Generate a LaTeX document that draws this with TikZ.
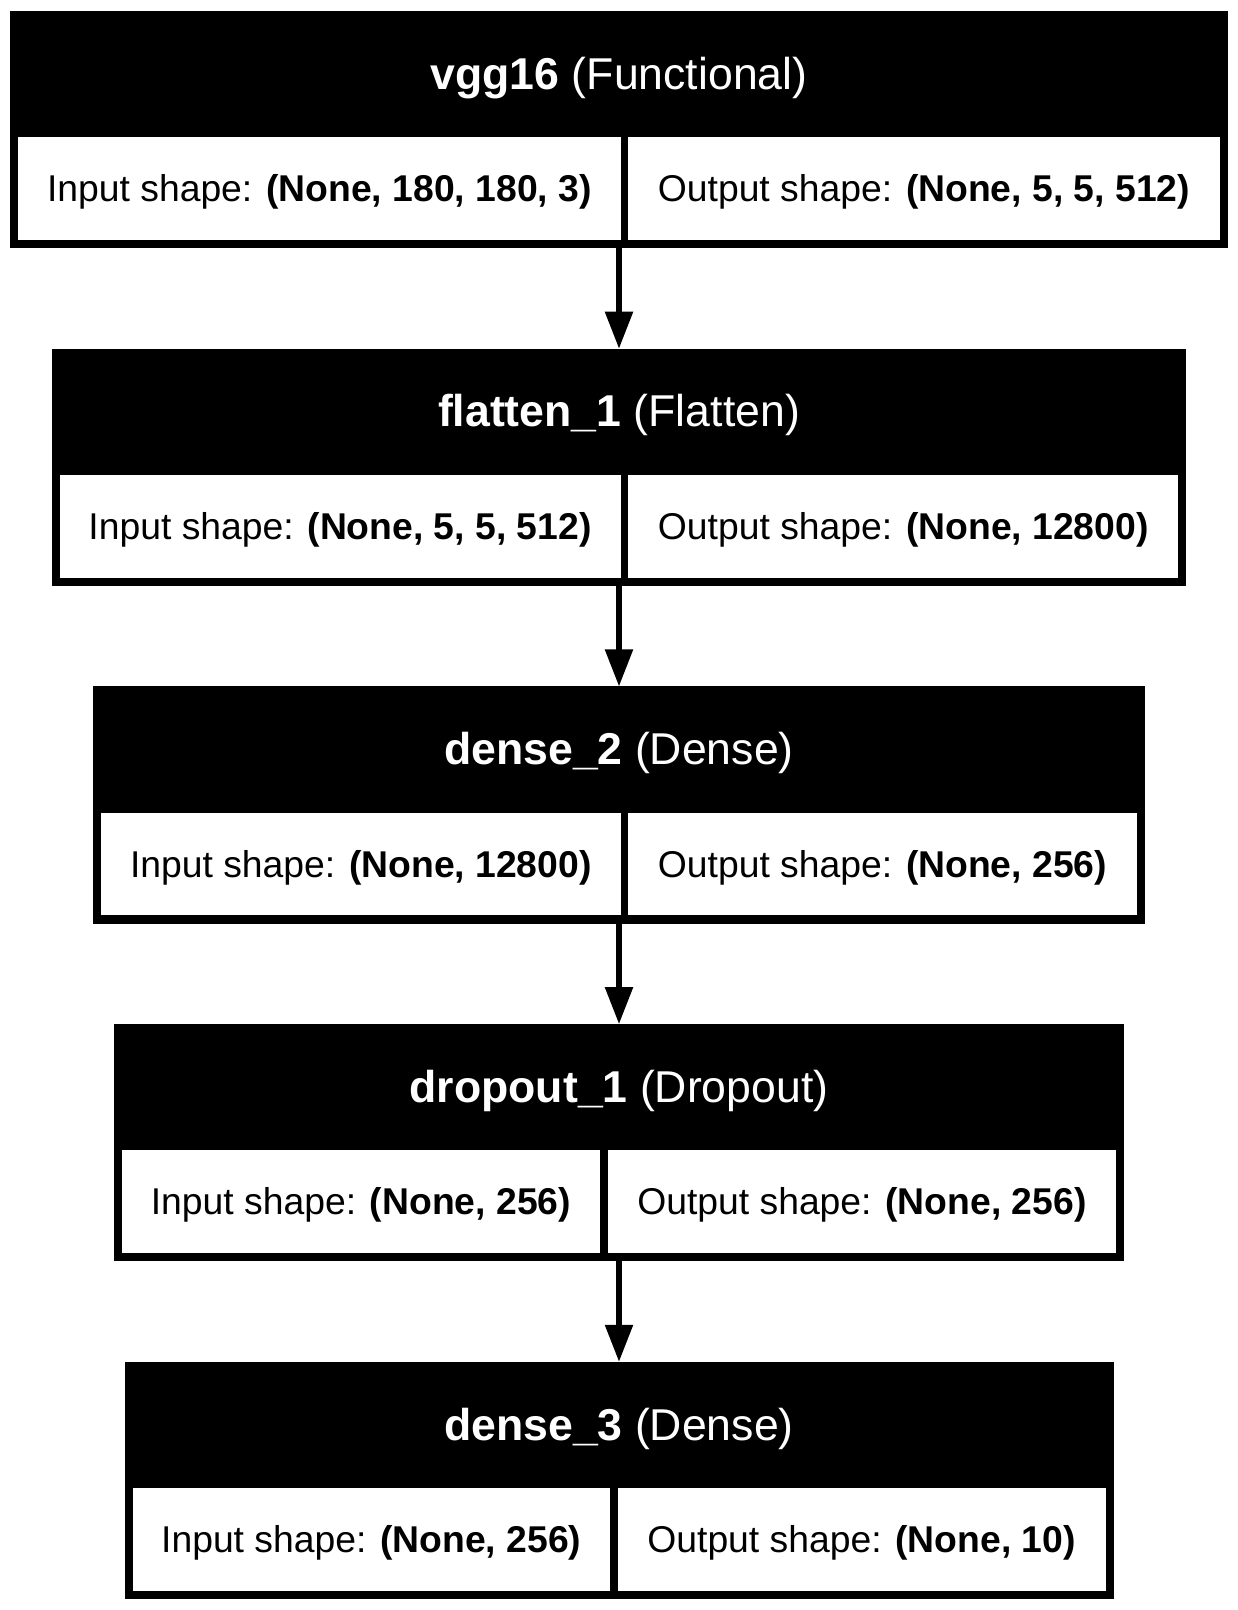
\documentclass[tikz,border=0pt]{standalone}
\usepackage{fontspec}
\setmainfont{Liberation Sans}
\usetikzlibrary{arrows.meta}
\tikzset{
  layerbox/.style={rectangle, fill=black, inner sep=0pt, outer sep=0pt},
  cellbox/.style={rectangle, fill=white, inner sep=0pt, outer sep=0pt,
    minimum height=102.7pt},
  celltext/.style={inner sep=0pt, outer sep=0pt, text=black, yshift=-3.5pt,
    font=\fontsize{37.3}{40}\selectfont},
  titletext/.style={inner sep=0pt, outer sep=0pt, text=white, yshift=-3.5pt,
    font=\fontsize{44.6}{48}\selectfont},
  flowarrow/.style={draw=black, line width=5.5pt,
    -{Triangle[length=37pt,width=27pt]}},
}
% #1 name, #2 top, #3 left, #4 right, #5 divider left edge,
% #6 bold title, #7 regular title, #8 input, #9 output
\newcommand\kerasLayer[9]{%
  \pgfmathsetmacro\kcx{(#3+#4)/2}%
  \pgfmathsetmacro\kw{#4-#3}%
  \node[layerbox, minimum width=\kw pt, minimum height=237.3pt] (#1) at (\kcx, #2+118.65) {};
  \node[titletext] (#1t) at (\kcx, #2+63.15) {\textbf{#6} #7};
  \pgfmathsetmacro\klw{#5-#3-8}%
  \pgfmathsetmacro\klx{(#3+8+#5)/2}%
  \node[cellbox, minimum width=\klw pt] (#1i) at (\klx, #2+177.65) {};
  \node[celltext] (#1it) at (#1i.center) {Input shape: \textbf{(None, #8)}};
  \pgfmathsetmacro\krw{#4-8-#5-7.7}%
  \pgfmathsetmacro\krx{(#5+7.7+#4-8)/2}%
  \node[cellbox, minimum width=\krw pt] (#1o) at (\krx, #2+177.65) {};
  \node[celltext] (#1ot) at (#1o.center) {Output shape: \textbf{(None, #9)}};
}
\begin{document}
\begin{tikzpicture}[x=1pt, y=-1pt]
  \useasboundingbox[fill=white] (0,0) rectangle (1238,1610);
  \kerasLayer{b1}{11}{10.3}{1227.7}{620.5}{vgg16}{(Functional)}{180, 180, 3}{5, 5, 512}
  \kerasLayer{b2}{348.7}{51.6}{1186.4}{620.5}{flatten\_1}{(Flatten)}{5, 5, 512}{12800}
  \kerasLayer{b3}{686.4}{93.2}{1144.8}{620.5}{dense\_2}{(Dense)}{12800}{256}
  \kerasLayer{b4}{1024.1}{113.9}{1124.1}{600}{dropout\_1}{(Dropout)}{256}{256}
  \kerasLayer{b5}{1361.8}{124.5}{1113.5}{610}{dense\_3}{(Dense)}{256}{10}
  \draw[flowarrow] (b1.south) -- (b2.north);
  \draw[flowarrow] (b2.south) -- (b3.north);
  \draw[flowarrow] (b3.south) -- (b4.north);
  \draw[flowarrow] (b4.south) -- (b5.north);
\end{tikzpicture}
\end{document}
